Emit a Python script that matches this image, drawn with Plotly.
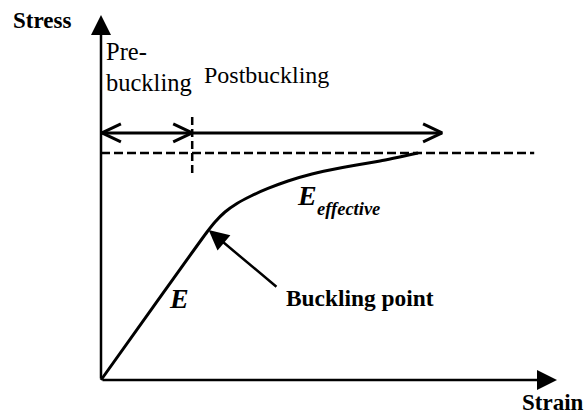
import plotly.graph_objects as go

# ---------------- data (arbitrary strain / stress units) ----------------
curve_strain = [0.0, 1.16, 2.325, 2.50, 2.719, 2.982, 3.289, 3.662, 4.101, 4.627, 5.241, 6.118, 6.952]
curve_stress = [0.0, 2.03, 4.055, 4.329, 4.603, 4.836, 5.041, 5.247, 5.452, 5.644, 5.808, 6.000, 6.219]

axis_max_strain = 10.0
axis_max_stress = 10.0

asymptote_stress = 6.22
asymptote_end_strain = 9.50

boundary_strain = 2.0          # pre/post buckling boundary (dashed vertical)
boundary_stress_range = [5.67, 7.21]

regime_arrow_stress = 6.77
regime_arrow_start = 0.02
regime_arrow_end = 7.48

buckling_point = (2.36, 4.11)
buckling_label_tail = (3.88, 2.52)

# ---------------- page geometry ----------------
W, H = 586, 415
ORIGIN_PX = (101, 380)
KX, KY = 45.6, 36.5          # px per data unit

x_range = [-ORIGIN_PX[0] / KX, (W - ORIGIN_PX[0]) / KX]
y_range = [-(H - ORIGIN_PX[1]) / KY, ORIGIN_PX[1] / KY]

BLACK = "#000000"
SERIF = "Liberation Serif, Times New Roman, serif"

fig = go.Figure()

# stress-strain curve
fig.add_trace(go.Scatter(
    x=curve_strain, y=curve_stress, mode="lines",
    line=dict(color=BLACK, width=3, shape="spline", smoothing=0.6),
    hoverinfo="skip", showlegend=False))

# horizontal dashed asymptote
fig.add_trace(go.Scatter(
    x=[0, asymptote_end_strain], y=[asymptote_stress, asymptote_stress], mode="lines",
    line=dict(color=BLACK, width=2.5, dash="9px,4px"),
    hoverinfo="skip", showlegend=False))

# vertical dashed boundary
fig.add_trace(go.Scatter(
    x=[boundary_strain, boundary_strain], y=boundary_stress_range, mode="lines",
    line=dict(color=BLACK, width=2.5, dash="8px,4px"),
    hoverinfo="skip", showlegend=False))

# regime arrow shaft
fig.add_trace(go.Scatter(
    x=[regime_arrow_start, regime_arrow_end], y=[regime_arrow_stress, regime_arrow_stress],
    mode="lines", line=dict(color=BLACK, width=3),
    hoverinfo="skip", showlegend=False))

# open chevron heads
def chevron(x, y, direction, length_px=19, half_px=9):
    dx = direction * length_px / KX
    dy = half_px / KY
    return [x - dx, x, x - dx, None], [y + dy, y, y - dy, None]

cx, cy = [], []
for xx, d in [(regime_arrow_start, -1), (boundary_strain, 1), (regime_arrow_end, 1)]:
    a, b = chevron(xx, regime_arrow_stress, d)
    cx += a
    cy += b
fig.add_trace(go.Scatter(
    x=cx, y=cy, mode="lines", line=dict(color=BLACK, width=3),
    hoverinfo="skip", showlegend=False))

annotations = []
# axes with filled arrowheads
for tip, tail in [((0, axis_max_stress), (0, 0)), ((axis_max_strain, 0), (0, 0))]:
    annotations.append(dict(
        x=tip[0], y=tip[1], ax=tail[0], ay=tail[1], xref="x", yref="y",
        axref="x", ayref="y", text="", showarrow=True, arrowhead=2,
        arrowsize=1.6, arrowwidth=2.5, arrowcolor=BLACK, standoff=0))

# buckling point arrow
annotations.append(dict(
    x=buckling_point[0], y=buckling_point[1],
    ax=buckling_label_tail[0], ay=buckling_label_tail[1],
    xref="x", yref="y", axref="x", ayref="y", text="", showarrow=True,
    arrowhead=2, arrowsize=1.6, arrowwidth=2.5, arrowcolor=BLACK, standoff=0))

def label(text, px, py, size, xanchor="center"):
    annotations.append(dict(
        x=px / W, y=1 - py / H, xref="paper", yref="paper", text=text,
        showarrow=False, xanchor=xanchor, yanchor="middle",
        font=dict(family=SERIF, size=size, color=BLACK)))

label("<b>Stress</b>", 42, 20, 23)
label("<b>Strain</b>", 553, 402, 23)
label("Pre-", 104, 52, 24.5, "left")
label("buckling", 104, 82, 24.5, "left")
label("Postbuckling", 202, 75, 24, "left")
label("<b><i>E</i></b>", 179, 298, 28)
label("<b><i>E</i></b>", 307, 196, 28)
label("<b><i>effective</i></b>", 315, 209, 18.5, "left")
label("<b>Buckling point</b>", 284, 298, 23.4, "left")

fig.update_layout(
    width=W, height=H, margin=dict(l=0, r=0, t=0, b=0),
    paper_bgcolor="white", plot_bgcolor="white",
    xaxis=dict(range=x_range, visible=False, fixedrange=True),
    yaxis=dict(range=y_range, visible=False, fixedrange=True),
    annotations=annotations, showlegend=False)

fig.write_html("out.html", config={"displayModeBar": False},
               post_script="document.body.style.margin='0';")
